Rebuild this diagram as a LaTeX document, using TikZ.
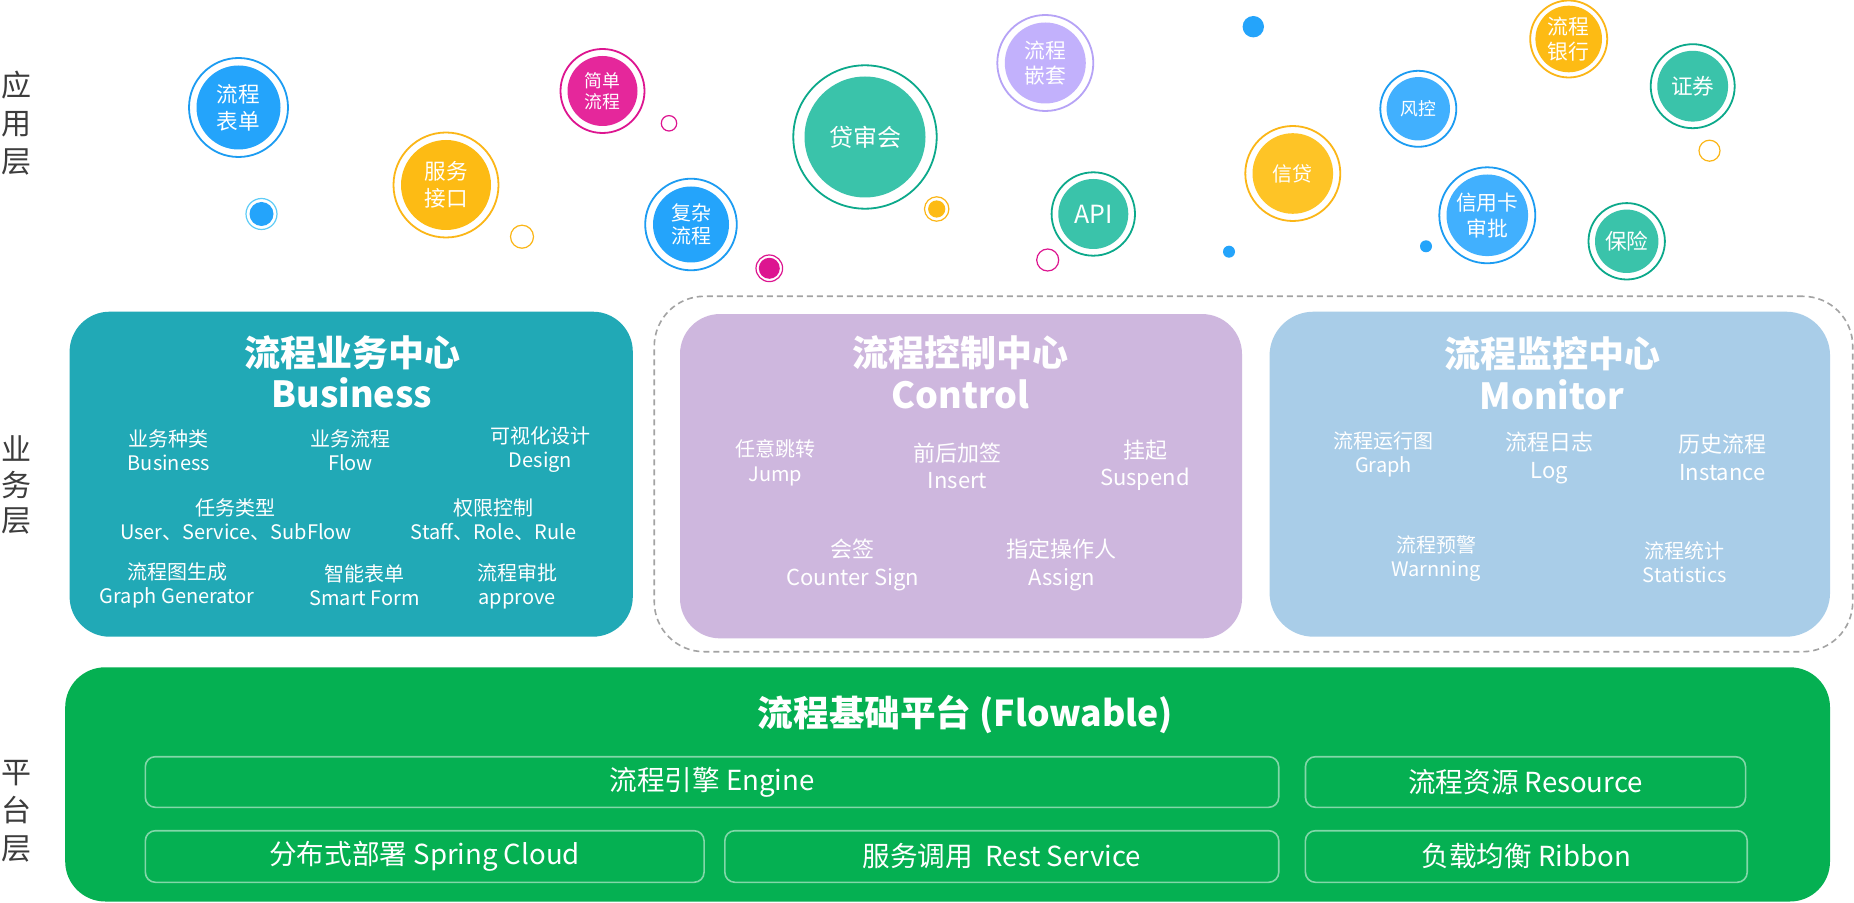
\documentclass[tikz,border=0pt]{standalone}
\usepackage{fontspec}
\setmainfont{Noto Sans CJK SC}
\usepackage{tikz}
\usepackage{xcolor}
\definecolor{bizteal}{HTML}{21A9B6}
\definecolor{ctrllilac}{HTML}{CEB7DE}
\definecolor{monblue}{HTML}{A9CDE8}
\definecolor{platgreen}{HTML}{05B052}
\definecolor{zonegray}{HTML}{A3A3A3}
\definecolor{layergray}{HTML}{3C3C3C}
\definecolor{bblue}{HTML}{24A4FB}
\definecolor{bring}{HTML}{1C9CF2}
\definecolor{lblue}{HTML}{41B0FE}
\definecolor{byellow}{HTML}{FDBB14}
\definecolor{lyellow}{HTML}{FEC426}
\definecolor{yring}{HTML}{FBB617}
\definecolor{bpink}{HTML}{E5279B}
\definecolor{pring}{HTML}{DD1590}
\definecolor{bteal}{HTML}{3AC3AA}
\definecolor{tring}{HTML}{0CA98B}
\definecolor{blilac}{HTML}{C2B1FC}
\definecolor{lring}{HTML}{B6A3F6}
\definecolor{dotring}{HTML}{5ECCF7}

\newcommand{\pxu}{0.5pt}
\newcommand{\fsz}[2]{\fontsize{#1}{#2}\selectfont}

\begin{document}
\begin{tikzpicture}[
    x=0.5pt, y=-0.5pt,
    wh/.style 2 args={minimum width=#1*\pxu,minimum height=#2*\pxu,inner sep=0pt},
    panel/.style={rectangle,rounded corners=20pt},
    title/.style={text=white,align=center,font=\bfseries\fsz{18}{20.8}},
    entry/.style={text=white,align=center,font=\fsz{10}{12}},
    entrybig/.style={text=white,align=center,font=\fsz{11}{13.6}},
    slot/.style={rectangle,rounded corners=5pt,draw=white,draw opacity=0.5,line width=0.8pt,text=white,font=\fsz{13.8}{16}},
    layerlbl/.style={text=layergray,align=center,font=\fsz{15}{19}},
    bubble/.style={circle,inner sep=0pt,fill=white,line width=0.9pt,text=white,align=center},
    ring/.style={draw=#1},
    bsize/.style={minimum size=2*#1*\pxu},
    core/.style 2 args={path picture={\fill[#1] (path picture bounding box.center) circle[radius=#2*\pxu];}},
    dot/.style={line width=0.6pt}
]
\path[fill=white,use as bounding box] (0,0) rectangle (1854,903);

% layer labels
\node[layerlbl] (appLayer) at (17,123.5) {应\\用\\层};
\node[layerlbl,font=\fsz{15}{17.8}] (bizLayer) at (17,485) {业\\务\\层};
\node[layerlbl] (platLayer) at (17,811) {平\\台\\层};

% application bubbles
\node[bubble,ring=bring,bsize=49.5,core={bblue}{42},font=\fsz{10.8}{13.7}] (formBub) at (238.5,107.5) {流程\\表单};
\node[bubble,ring=yring,bsize=52.5,core={byellow}{45},font=\fsz{10.8}{13.4}] (apiPortBub) at (446,185) {服务\\接口};
\node[bubble,ring=pring,bsize=42,core={bpink}{35},font=\fsz{8.9}{10.5}] (simpleBub) at (602.5,91) {简单\\流程};
\node[bubble,ring=bring,bsize=45.8,core={bblue}{38},font=\fsz{10}{11.7}] (complexBub) at (691,224.5) {复杂\\流程};
\node[bubble,ring=tring,bsize=71.7,core={bteal}{60.5},font=\fsz{12}{14}] (loanBoardBub) at (865,137) {贷审会};
\node[bubble,ring=lring,bsize=48,core={blilac}{40.5},font=\fsz{10.4}{12.5}] (nestBub) at (1045.3,63) {流程\\嵌套};
\node[bubble,ring=tring,bsize=41.7,core={bteal}{35},font=\fsz{12.5}{14}] (apiBub) at (1093.3,214) {API};
\node[bubble,ring=yring,bsize=47.5,core={lyellow}{40.3},font=\fsz{10}{12}] (creditBub) at (1292.8,173.5) {信贷};
\node[bubble,ring=bring,bsize=38,core={lblue}{31.7},font=\fsz{8.9}{10.5}] (riskBub) at (1418.3,108.8) {风控};
\node[bubble,ring=bring,bsize=48,core={lblue}{40.8},font=\fsz{10.4}{13}] (cardBub) at (1487.3,215.3) {信用卡\\审批};
\node[bubble,ring=yring,bsize=38.5,core={byellow}{33.3},font=\fsz{10.4}{12.5}] (bankBub) at (1568.7,39) {流程\\银行};
\node[bubble,ring=tring,bsize=42,core={bteal}{35.4},font=\fsz{10.8}{13}] (stockBub) at (1692.7,86.2) {证券};
\node[bubble,ring=tring,bsize=38.2,core={bteal}{31.7},font=\fsz{10.8}{13}] (insureBub) at (1626.7,241.3) {保险};

% small dots
\draw[dot,dotring] (261.5,214) circle[radius=15.5*\pxu];
\fill[bblue] (261.5,214) circle[radius=12*\pxu];
\draw[dot,yring] (522,236.7) circle[radius=11.5*\pxu];
\draw[dot,pring] (669,123.3) circle[radius=7.7*\pxu];
\draw[dot,yring] (936.7,209) circle[radius=12.2*\pxu];
\fill[byellow] (936.7,209) circle[radius=8.6*\pxu];
\draw[dot,pring] (769.3,268.3) circle[radius=13.3*\pxu];
\fill[pring] (769.3,268.3) circle[radius=10.5*\pxu];
\draw[dot,pring] (1047.7,260) circle[radius=11*\pxu];
\fill[bblue] (1253.3,26.7) circle[radius=10.7*\pxu];
\fill[bblue] (1229,251.7) circle[radius=6*\pxu];
\fill[bblue] (1426,246.3) circle[radius=6*\pxu];
\draw[dot,yring] (1709.5,150.7) circle[radius=10.5*\pxu];

% business layer
\node[panel,fill=bizteal,wh={563.2}{325}] (bizBox) at (351.2,474.2) {};
\node[title] (bizTitle) at (352,372) {流程业务中心\\Business};
\node[entry] (bizKind) at (168.8,450) {业务种类\\Business};
\node[entry] (bizFlow) at (350.4,450) {业务流程\\Flow};
\node[entry] (bizDesign) at (540.5,450) {可视化设计\\Design};
\node[entry] (bizTask) at (236,520) {任务类型\\User、Service、SubFlow};
\node[entry] (bizAuth) at (493.5,520) {权限控制\\Staff、Role、Rule};
\node[entry] (bizGraph) at (177.3,585) {流程图生成\\Graph Generator};
\node[entry] (bizForm) at (364.8,585) {智能表单\\Smart Form};
\node[entry] (bizApprove) at (517,586.3) {流程审批\\approve};

\node[panel,rounded corners=25pt,draw=zonegray,line width=0.8pt,dash pattern=on 3pt off 2pt,wh={1198.5}{355.4}] (ctrlZone) at (1253.5,474) {};

\node[panel,fill=ctrllilac,wh={562}{324.3}] (ctrlBox) at (961,476.2) {};
\node[title] (ctrlTitle) at (960.5,372.5) {流程控制中心\\Control};
\node[entry,font=\fsz{10}{12.5}] (ctrlJump) at (775.5,462.5) {任意跳转\\Jump};
\node[entrybig] (ctrlInsert) at (957.5,465.7) {前后加签\\Insert};
\node[entrybig] (ctrlSuspend) at (1145,465) {挂起\\Suspend};
\node[entrybig] (ctrlSign) at (852.7,565) {会签\\Counter Sign};
\node[entrybig] (ctrlAssign) at (1061.8,565) {指定操作人\\Assign};

\node[panel,rounded corners=22pt,fill=monblue,wh={560.5}{325}] (monBox) at (1549.8,474.2) {};
\node[title] (monTitle) at (1552,373.5) {流程监控中心\\Monitor};
\node[entry,font=\fsz{10}{11.7}] (monGraph) at (1383.4,454.3) {流程运行图\\Graph};
\node[entrybig,font=\fsz{11}{13.9}] (monLog) at (1549.6,457.8) {流程日志\\Log};
\node[entrybig,font=\fsz{11}{13.9}] (monInst) at (1722.5,457.5) {历史流程\\Instance};
\node[entry] (monWarn) at (1436,559) {流程预警\\Warnning};
\node[entry] (monStat) at (1684.6,562) {流程统计\\Statistics};

% platform layer
\node[panel,fill=platgreen,wh={1764.8}{234.2}] (platBox) at (947.6,784.4) {};
\node[title,font=\bfseries\fsz{17.8}{22}] (platTitle) at (965.5,715) {流程基础平台 (Flowable)};
\node[slot,wh={1133.4}{50.6}] (engine) at (712,782) {流程引擎 Engine};
\node[slot,wh={440.1}{50.6}] (resource) at (1525.5,782) {流程资源 Resource};
\node[slot,wh={558.7}{51.6}] (cloud) at (424.7,856.5) {分布式部署 Spring Cloud};
\node[slot,wh={553.9}{51.6}] (rest) at (1001.8,856.5) {服务调用~~Rest Service};
\node[slot,wh={441.8}{51.6}] (ribbon) at (1526.3,856.5) {负载均衡 Ribbon};
\end{tikzpicture}
\end{document}
